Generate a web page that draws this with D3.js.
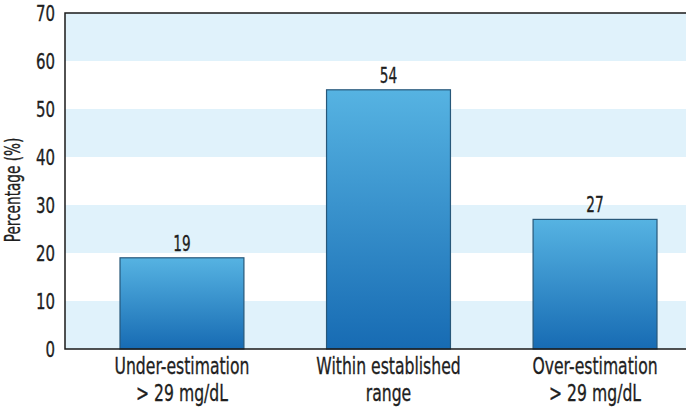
<!DOCTYPE html>
<html>
<head>
<meta charset="utf-8">
<script src="https://cdn.jsdelivr.net/npm/d3@7"></script>
<style>
  body { margin: 0; background: #fff; }
  svg text { font-family: "DejaVu Sans", sans-serif; fill: #1e1e1e; stroke: #1e1e1e; stroke-width: 0.35px; }
</style>
</head>
<body>
<svg id="chart" width="690" height="410"></svg>
<script>
const categories = [["Under-estimation", "> 29 mg/dL"], ["Within established", "range"], ["Over-estimation", "> 29 mg/dL"]];
const values = [19, 54, 27];
const yTicks = [0, 10, 20, 30, 40, 50, 60, 70];

const svg = d3.select("#chart");
const m = { top: 13, right: 4, bottom: 61, left: 65 };
const W = 690, H = 410;

const y = d3.scaleLinear([0, 70], [H - m.bottom, m.top]);
const x = d3.scaleBand(d3.range(values.length), [120, 657]).paddingInner(0.4);
const cx = i => x(i) + x.bandwidth() / 2;

// the original uses a narrow typeface; squeeze DejaVu horizontally
function narrowText(parent, px, py, sx, size, str) {
  return parent.append("g").attr("transform", `translate(${px},${py})`)
    .append("text").attr("transform", `scale(${sx},1)`)
    .attr("text-anchor", "middle").attr("font-size", size).text(str);
}

// alternating bands, light blue starting at 0-10
for (let i = 0; i < yTicks.length - 1; i += 2) {
  svg.append("rect")
    .attr("x", m.left).attr("width", W - m.right - m.left)
    .attr("y", y(yTicks[i + 1])).attr("height", y(yTicks[i]) - y(yTicks[i + 1]))
    .attr("fill", "#e0f2fb");
}

const grad = svg.append("defs").append("linearGradient")
  .attr("id", "barGrad").attr("x1", 0).attr("y1", 0).attr("x2", 0).attr("y2", 1);
grad.append("stop").attr("offset", "0%").attr("stop-color", "#56b3e2");
grad.append("stop").attr("offset", "100%").attr("stop-color", "#176bb3");

svg.selectAll(".bar").data(values).join("rect")
  .attr("x", (_, i) => x(i)).attr("width", x.bandwidth())
  .attr("y", d => y(d)).attr("height", d => y(0) - y(d))
  .attr("fill", "url(#barGrad)")
  .attr("stroke", "#27587a").attr("stroke-width", 1.2);

values.forEach((v, i) => narrowText(svg, cx(i), y(v) - 7, 0.65, 21, v));

// frame: top, left, bottom
svg.append("path")
  .attr("d", `M${W - m.right},${m.top}H${m.left}V${y(0)}H${W - m.right}`)
  .attr("fill", "none").attr("stroke", "#1a1a1a").attr("stroke-width", 1.5);

const sxTick = 0.73;
svg.append("g")
  .attr("transform", `translate(${m.left},0)`)
  .call(d3.axisLeft(y).tickValues(yTicks).tickSize(0))
  .call(g => g.select(".domain").remove())
  .call(g => g.selectAll("text")
    .attr("font-size", 20.5).attr("font-family", "DejaVu Sans")
    .attr("x", -10 / sxTick).attr("dy", "0.36em")
    .attr("transform", `scale(${sxTick},1)`));

categories.forEach((lines, i) => {
  lines.forEach((s, j) => narrowText(svg, cx(i), 374 + j * 27, 0.68, 23, s));
});

svg.append("g").attr("transform", `translate(20,190) rotate(-90)`)
  .append("text").attr("transform", "scale(0.65,1)")
  .attr("text-anchor", "middle").attr("font-size", 21)
  .text("Percentage (%)");
</script>
</body>
</html>
